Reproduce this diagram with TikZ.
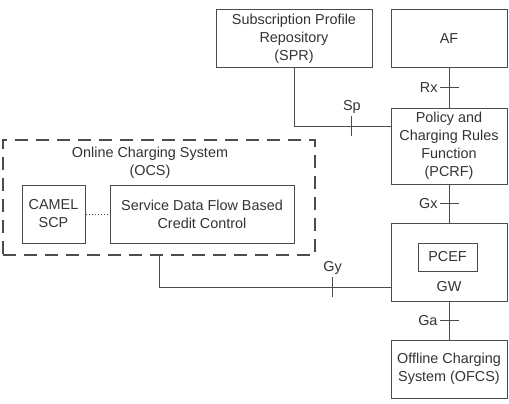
\documentclass[tikz,border=0pt]{standalone}
\usepackage{fontspec}
\setmainfont{Liberation Sans}
\usetikzlibrary{calc}

\begin{document}
\begin{tikzpicture}[x=1pt,y=-1pt,line width=1pt,draw=black!70,
    font=\fontsize{14.4}{18}\selectfont,
    box/.style={draw,align=center,inner sep=0pt,text=black!80},
    ifc/.style={text=black!80,inner sep=2pt},
    ocsframe/.style={draw,line width=1.4pt,dash pattern=on 13pt off 8pt}]
  \useasboundingbox (0,0) rectangle (509,404);
  % network elements
  \node[box,minimum width=156pt,minimum height=58pt] (spr) at (294,39)
    {Subscription Profile\\Repository\\(SPR)};
  \node[box,minimum width=116pt,minimum height=58pt] (af) at (449,39) {AF};
  \node[box,minimum width=116pt,minimum height=76pt] (pcrf) at (449,146)
    {Policy and\\Charging Rules\\Function\\(PCRF)};
  \node[box,minimum width=116pt,minimum height=78pt] (gw) at (449,262) {};
  \node[box,minimum width=59pt,minimum height=28pt] (pcef) at (447.5,257) {PCEF};
  \node[ifc] (gwname) at (449,287) {GW};
  \node[box,minimum width=116pt,minimum height=58pt] (ofcs) at (449,369)
    {Offline Charging\\System (OFCS)};
  % online charging system
  \node[ocsframe,minimum width=312pt,minimum height=115pt] (ocs) at (159,197.5) {};
  \node[ifc,align=center] (ocsname) at (150,163) {Online Charging System\\(OCS)};
  \node[box,minimum width=63pt,minimum height=58pt] (camel) at (53.5,214) {CAMEL\\SCP};
  \node[box,minimum width=184pt,minimum height=58pt] (sdf) at (202,214)
    {Service Data Flow Based\\Credit Control};
  \draw[dotted] (camel) -- (sdf);
  % reference points
  \draw (af) -- coordinate (rx) (pcrf);
  \draw (pcrf) -- coordinate (gx) (gw);
  \draw (gw) -- coordinate (ga) (ofcs);
  \draw (spr.south) |- coordinate[pos=.8] (sp) ([yshift=20pt]pcrf.west);
  \draw (ocs.south) |- coordinate[pos=.875] (gy) ([yshift=-25pt]gw.west);
  \foreach \p/\t in {rx/Rx,gx/Gx,ga/Ga}
    \draw ([xshift=10pt]\p) -- ([xshift=-9pt]\p) node[ifc,left] {\t};
  \foreach \p/\t in {sp/Sp,gy/Gy}
    \draw ([yshift=-10pt]\p) -- ([yshift=10pt]\p) node[ifc,above] {\t};
\end{tikzpicture}
\end{document}
